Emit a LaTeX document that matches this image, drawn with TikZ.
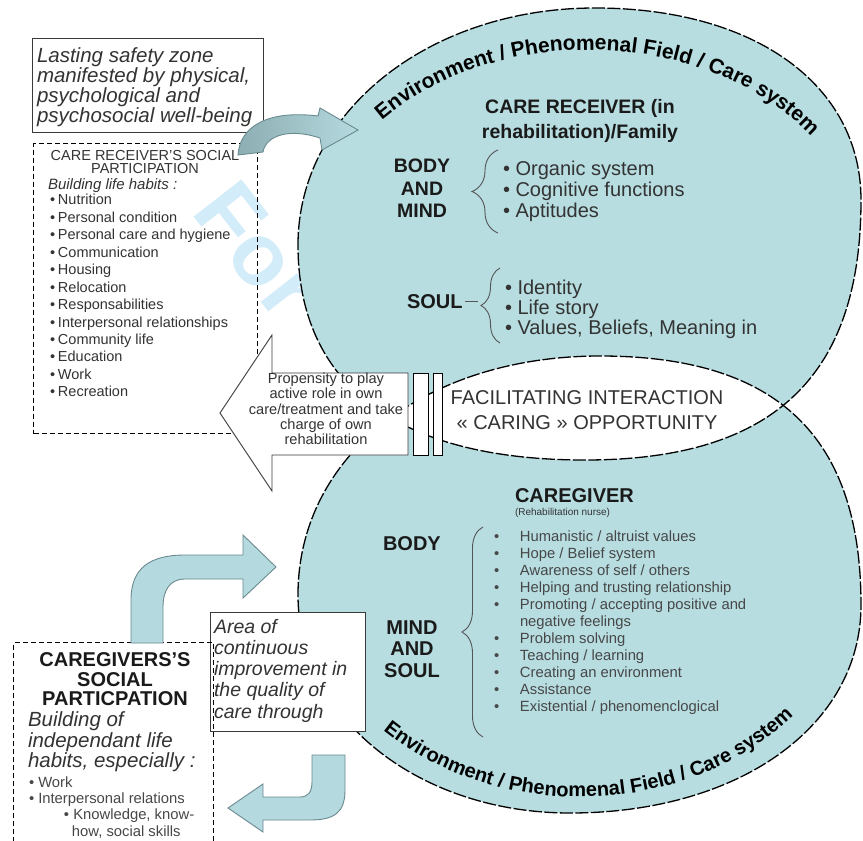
\documentclass[tikz,border=0pt]{standalone}
\usepackage{fontspec}
\setmainfont{Liberation Sans}
\usetikzlibrary{decorations.text,decorations.pathreplacing}
\definecolor{shapefill}{HTML}{B7DDE1}
\definecolor{arrowfill}{HTML}{B4D9DE}
\definecolor{arrowdark}{HTML}{8DAEB3}
\definecolor{arrowline}{HTML}{6A8A8F}
\definecolor{txtdark}{HTML}{1A1A1A}
\definecolor{txttwo}{HTML}{333333}
\definecolor{txtthree}{HTML}{474747}
\definecolor{wmcol}{HTML}{D2ECF9}
\definecolor{bracecol}{HTML}{555555}
\definecolor{boxline}{HTML}{3A3A3A}
\newcommand{\crbul}{\makebox[8pt][l]{•}}
\newcommand{\cgbul}{\makebox[26pt][l]{•}}
\begin{document}
\begin{tikzpicture}[x=1pt,y=1pt,
  lbl/.style={inner sep=0pt, outer sep=0pt, text=txtdark},
  outline/.style={draw=black, line width=1.3pt, dash pattern=on 13pt off 2.5pt},
  dashbox/.style={draw=black, line width=1.1pt, dash pattern=on 5pt off 3pt, inner sep=0pt},
  solidbox/.style={draw=boxline, line width=1.1pt, fill=white, inner sep=0pt},
  flowarrow/.style={draw=arrowline, line width=0.9pt, fill=arrowfill},
  bigarrow/.style={draw=boxline, line width=0.9pt, fill=white},
  barstyle/.style={draw=black, line width=1pt, fill=white},
  bracket/.style={draw=bracecol, line width=0.9pt, decorate},
]
\useasboundingbox (0,0) rectangle (863,-841);
\clip (0,0) rectangle (863,-841);
\fill[white] (0,0) rectangle (863,-841);

% watermark
\node[lbl, text=wmcol, rotate=-52, font=\bfseries\fontsize{88}{88}\selectfont] (watermark) at (258,-250) {For};

% the two overlapping shapes
\path[save path=\toppath] (298,-245) .. controls (298,-112) and (429,-8) .. (595,-8) .. controls (755,-8) and (861,-85) .. (861,-200) .. controls (861,-377) and (773,-460) .. (585,-460) .. controls (398,-460) and (298,-385) .. (298,-245) -- cycle;
\path[save path=\botpath] (298,-595) .. controls (298,-456) and (425,-356) .. (600,-356) .. controls (777,-356) and (861,-436) .. (861,-605) .. controls (861,-726) and (739,-813) .. (570,-813) .. controls (418,-813) and (298,-717) .. (298,-595) -- cycle;
\fill[shapefill, use path=\toppath];
\fill[shapefill, use path=\botpath];
\begin{scope}
  \clip[use path=\toppath];
  \fill[white, use path=\botpath];
\end{scope}
\draw[outline, use path=\toppath];
\draw[outline, use path=\botpath];

% curved texts
\path[decorate, decoration={text along path, text={|\bfseries\fontsize{21}{21}\selectfont|Environment / Phenomenal Field / Care system}, text align=center}] (357.4,-144.7) arc[start angle=147, end angle=27, x radius=275, y radius=208];
\path[decorate, decoration={text along path, text={|\bfseries\fontsize{20}{20}\selectfont|Environment / Phenomenal Field / Care system}, text align=center}] (363.2,-712.3) arc[start angle=220, end angle=325, x radius=283, y radius=237];

% care receiver texts
\node[lbl, anchor=north, align=center, font=\bfseries\fontsize{19.5}{25}\selectfont] (crtitle) at (580,-99) {CARE RECEIVER (in\\rehabilitation)/Family};
\node[lbl, anchor=north, align=center, font=\bfseries\fontsize{19.5}{22.5}\selectfont] (bodymind) at (422,-159) {BODY\\AND\\MIND};
\draw[bracket, decoration={brace, amplitude=26pt}] (498,-233) -- (498,-150);
\node[lbl, anchor=north west, align=left, text=txttwo, font=\fontsize{20}{21}\selectfont] (bmitems) at (503,-161.4) {• Organic system\\• Cognitive functions\\• Aptitudes};
\node[lbl, anchor=base west, font=\bfseries\fontsize{20}{20}\selectfont] (soul) at (407,-308) {SOUL};
\draw[draw=bracecol, line width=0.9pt] ([xshift=2pt]soul.east) -- ++(13,0);
\draw[bracket, decoration={brace, amplitude=19pt}] (500,-343) -- (500,-268);
\node[lbl, anchor=north west, align=left, text=txttwo, font=\fontsize{20}{20}\selectfont] (soulitems) at (505,-280.4) {• Identity\\• Life story\\• Values, Beliefs, Meaning in};

% lens text
\node[lbl, align=center, text=txttwo, font=\fontsize{20}{25}\selectfont] (facil) at (587,-410.4) {FACILITATING INTERACTION\\« CARING » OPPORTUNITY};

% caregiver texts
\node[lbl, anchor=base west, font=\bfseries\fontsize{20}{20}\selectfont] (cgtitle) at (515,-502) {CAREGIVER};
\node[lbl, anchor=base west, text=txttwo, font=\fontsize{10}{10}\selectfont] (cgsub) at (515,-515) {(Rehabilitation nurse)};
\node[lbl, anchor=base west, font=\bfseries\fontsize{20}{20}\selectfont] (cgbody) at (383,-550) {BODY};
\node[lbl, anchor=north, align=center, font=\bfseries\fontsize{20}{21.5}\selectfont] (cgmind) at (412,-620.7) {MIND\\AND\\SOUL};
\draw[bracket, decoration={brace, amplitude=21pt}] (483,-737) -- (483,-527);
\node[lbl, anchor=north west, align=left, text=txtthree, font=\fontsize{14.8}{17}\selectfont] (cgitems) at (494,-531.2) {\cgbul Humanistic / altruist values\\\cgbul Hope / Belief system\\\cgbul Awareness of self / others\\\cgbul Helping and trusting relationship\\\cgbul Promoting / accepting positive and\\\makebox[26pt]{}negative feelings\\\cgbul Problem solving\\\cgbul Teaching / learning\\\cgbul Creating an environment\\\cgbul Assistance\\\cgbul Existential / phenomenclogical};

% top-left safety box
\node[solidbox, minimum width=231pt, minimum height=94pt, anchor=north west] (safetybox) at (32,-38) {};
\node[lbl, anchor=north west, align=left, text=txttwo, font=\itshape\fontsize{20.5}{20}\selectfont] (safetytext) at (37,-48) {Lasting safety zone\\manifested by physical,\\psychological and\\psychosocial well-being};

% care receiver social participation box
\node[dashbox, minimum width=224pt, minimum height=290pt, anchor=north west] (crbox) at (33,-143) {};
\node[lbl, anchor=north, align=center, text=txttwo, font=\fontsize{14.5}{13.5}\selectfont] (crhead) at (145,-150) {CARE RECEIVER'S SOCIAL\\PARTICIPATION};
\node[lbl, anchor=north west, text=txttwo, font=\itshape\fontsize{15}{15}\selectfont] (crsub) at (48,-179) {Building life habits :};
\node[lbl, anchor=north west, align=left, text=txttwo, font=\fontsize{14.5}{17.45}\selectfont] (critems) at (50,-194.4) {\crbul Nutrition\\\crbul Personal condition\\\crbul Personal care and hygiene\\\crbul Communication\\\crbul Housing\\\crbul Relocation\\\crbul Responsabilities\\\crbul Interpersonal relationships\\\crbul Community life\\\crbul Education\\\crbul Work\\\crbul Recreation};

% area box
\node[solidbox, minimum width=155pt, minimum height=119pt, anchor=north west] (areabox) at (210,-612) {};
\node[lbl, anchor=north west, align=left, text=txttwo, font=\itshape\fontsize{19.5}{21.25}\selectfont] (areatext) at (214,-619) {Area of\\continuous\\improvement in\\the quality of\\care through};

% caregivers social participation box
\node[dashbox, minimum width=200pt, minimum height=230pt, anchor=north west] (cgbox) at (13,-642) {};
\node[lbl, anchor=north, align=center, font=\bfseries\fontsize{20}{19.5}\selectfont] (cghead) at (115,-652.7) {CAREGIVERS'S\\SOCIAL\\PARTICPATION};
\node[lbl, anchor=north west, align=left, text=txttwo, font=\itshape\fontsize{20.5}{20.5}\selectfont] (cgsubhead) at (28,-712) {Building of\\independant life\\habits, especially :};
\node[lbl, anchor=north west, align=left, text=txtthree, font=\fontsize{14.8}{16.3}\selectfont] (cgsoc) at (29,-776.4) {• Work\\• Interpersonal relations\\\hspace*{35pt}• Knowledge, know-\\\hspace*{43pt}how, social skills};

% curved arrow from the safety box to the care receiver
\shadedraw[left color=arrowdark, right color=arrowfill, draw=arrowline, line width=0.9pt] (238,-155) .. controls (240,-125) and (270,-110) .. (318,-116) -- (320,-108) -- (358,-130) -- (322,-150) -- (320,-138) .. controls (290,-128) and (266,-135) .. (263,-152) -- cycle;

% big white arrow and bars
\draw[bigarrow] (220,-413) -- (272,-335) -- (272,-373) -- (408,-373) -- (408,-455) -- (272,-455) -- (272,-491) -- cycle;
\node[lbl, align=center, text=txttwo, font=\fontsize{14.6}{15.3}\selectfont] (proptext) at (326,-409) {Propensity to play\\active role in own\\care/treatment and take\\charge of own\\rehabilitation};
\draw[barstyle] (413,-373) rectangle (428,-455);
\draw[barstyle] (433,-373) rectangle (442,-455);

% lower arrows
\draw[flowarrow] (131,-643) -- (131,-600) .. controls (131,-568) and (150,-555) .. (185,-555) -- (243,-555) -- (243,-535) -- (276,-567) -- (243,-598) -- (243,-579) -- (185,-579) .. controls (170,-579) and (163,-590) .. (163,-607) -- (163,-643) -- cycle;
\draw[flowarrow] (312,-755) -- (345,-755) -- (345,-790) .. controls (345,-812) and (335,-820) .. (310,-820) -- (263,-820) -- (263,-832) -- (228,-808) -- (263,-784) -- (263,-797) -- (300,-797) .. controls (308,-797) and (312,-792) .. (312,-782) -- cycle;
\end{tikzpicture}
\end{document}
